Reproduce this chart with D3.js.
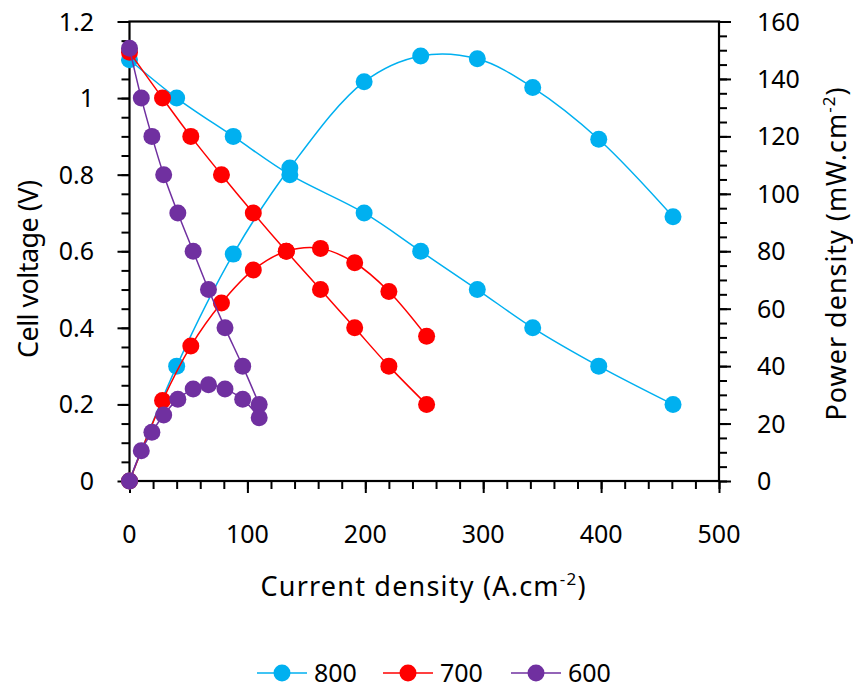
<!DOCTYPE html>
<meta charset="utf-8">
<style>
body{margin:0;background:#fff;}
text{font-family:"Noto Sans",sans-serif;fill:#000;}
</style>
<body>
<script src="https://d3js.org/d3.v7.min.js"></script>
<script>
// values
var series = ["800", "700", "600"];
var colors = ["#00B0F0", "#FF0000", "#7030A0"];

var current800 = [0, 40, 88, 136, 199, 247, 295, 342, 398, 461];
var voltage800 = [1.10, 1.0, 0.9, 0.8, 0.7, 0.6, 0.5, 0.4, 0.3, 0.2];
var power800 = [0, 40, 79, 109, 139, 148, 147, 137, 119, 92];

var current700 = [0, 28, 52, 78, 105, 133, 162, 191, 220, 252];
var voltage700 = [1.12, 1.0, 0.9, 0.8, 0.7, 0.6, 0.5, 0.4, 0.3, 0.2];
var power700 = [0, 28, 47, 62, 73.5, 80, 81, 76, 66, 50.4];

var current600 = [0, 10, 19, 29, 41, 54, 67, 81, 96, 110];
var voltage600 = [1.13, 1.0, 0.9, 0.8, 0.7, 0.6, 0.5, 0.4, 0.3, 0.2];
var power600 = [0, 10.5, 17, 23, 28.5, 32, 33.5, 32, 28.5, 22];

var xTicks = [0, 100, 200, 300, 400, 500];
var vTicks = [0, 0.2, 0.4, 0.6, 0.8, 1, 1.2];
var pTicks = [0, 20, 40, 60, 80, 100, 120, 140, 160];

var w = 853, h = 690;
var pl = 129.5, pr = 719, pt = 21.5, pb = 481;

var svg = d3.select("body").append("svg")
  .attr("width", w)
  .attr("height", h);

var x = d3.scaleLinear().domain([0, 500]).range([pl, pr]);
var yV = d3.scaleLinear().domain([0, 1.2]).range([pb, pt]);
var yP = d3.scaleLinear().domain([0, 160]).range([pb, pt]);

var data = [
  {name: series[0], color: colors[0], cur: current800, v: voltage800, p: power800},
  {name: series[1], color: colors[1], cur: current700, v: voltage700, p: power700},
  {name: series[2], color: colors[2], cur: current600, v: voltage600, p: power600}
];

// axes: minor ticks then major ticks
var axB = svg.append("g").attr("transform", "translate(0," + pb + ")");
axB.call(d3.axisBottom(x).ticks(25).tickSize(8).tickFormat(""));
axB.append("g").call(d3.axisBottom(x).tickValues(xTicks).tickSize(12).tickFormat(""));

var axL = svg.append("g").attr("transform", "translate(" + pl + ",0)");
axL.call(d3.axisLeft(yV).ticks(30).tickSize(8).tickFormat(""));
axL.append("g").call(d3.axisLeft(yV).tickValues(vTicks).tickSize(12).tickFormat(""));

var axR = svg.append("g").attr("transform", "translate(" + pr + ",0)");
axR.call(d3.axisRight(yP).ticks(40).tickSize(8).tickFormat(""));
axR.append("g").call(d3.axisRight(yP).tickValues(pTicks).tickSize(12).tickFormat(""));

svg.selectAll(".domain").remove();
svg.selectAll(".tick line").attr("stroke", "#000").attr("stroke-width", 2);

// frame
svg.append("rect")
  .attr("x", pl).attr("y", pt)
  .attr("width", pr - pl).attr("height", pb - pt)
  .attr("fill", "none").attr("stroke", "#000").attr("stroke-width", 2.2);

// tick labels
svg.selectAll(".xl").data(xTicks).enter().append("text")
  .attr("x", d => x(d)).attr("y", 543)
  .attr("text-anchor", "middle").style("font-size", "25px")
  .text(d => d);

svg.selectAll(".vl").data(vTicks).enter().append("text")
  .attr("x", 94).attr("y", d => yV(d) + 9)
  .attr("text-anchor", "end").style("font-size", "25px")
  .text(d => d);

svg.selectAll(".pl").data(pTicks).enter().append("text")
  .attr("x", 757).attr("y", d => yP(d) + 9)
  .attr("text-anchor", "start").style("font-size", "25px")
  .text(d => d);

// axis titles
var xt = svg.append("text").attr("x", 423).attr("y", 596)
  .attr("text-anchor", "middle").style("font-size", "27px")
  .attr("textLength", 325).attr("lengthAdjust", "spacing");
xt.append("tspan").text("Current density (A.cm");
xt.append("tspan").attr("dy", -11).style("font-size", "17px").text("-2");
xt.append("tspan").attr("dy", 11).text(")");

svg.append("text")
  .attr("transform", "translate(38,269) rotate(-90)")
  .attr("text-anchor", "middle").style("font-size", "27px")
  .attr("textLength", 178).attr("lengthAdjust", "spacing")
  .text("Cell voltage (V)");

var ptt = svg.append("text")
  .attr("transform", "translate(846,254) rotate(-90)")
  .attr("text-anchor", "middle").style("font-size", "27px")
  .attr("textLength", 333).attr("lengthAdjust", "spacing");
ptt.append("tspan").text("Power density (mW.cm");
ptt.append("tspan").attr("dy", -11).style("font-size", "17px").text("-2");
ptt.append("tspan").attr("dy", 11).text(")");

// curves
var lineV = d3.line()
  .x(d => x(d[0])).y(d => yV(d[1]))
  .curve(d3.curveCatmullRom.alpha(0.5));
var lineP = d3.line()
  .x(d => x(d[0])).y(d => yP(d[1]))
  .curve(d3.curveCatmullRom.alpha(0.5));

data.forEach(function(s) {
  var vPts = s.cur.map((c, i) => [c, s.v[i]]);
  var pPts = s.cur.map((c, i) => [c, s.p[i]]);
  var g = svg.append("g");
  g.append("path").attr("d", lineV(vPts))
    .attr("fill", "none").attr("stroke", s.color).attr("stroke-width", 1.5);
  g.append("path").attr("d", lineP(pPts))
    .attr("fill", "none").attr("stroke", s.color).attr("stroke-width", 1.5);
  g.selectAll(".v").data(vPts).enter().append("circle")
    .attr("cx", d => x(d[0])).attr("cy", d => yV(d[1])).attr("r", 8.5)
    .attr("fill", s.color);
  g.selectAll(".p").data(pPts).enter().append("circle")
    .attr("cx", d => x(d[0])).attr("cy", d => yP(d[1])).attr("r", 8.5)
    .attr("fill", s.color);
});

// legend
var legX = [257, 383, 511];
var leg = svg.selectAll(".leg").data(data).enter().append("g")
  .attr("transform", (d, i) => "translate(" + legX[i] + ",673)");
leg.append("line").attr("x1", 0).attr("x2", 50)
  .attr("stroke", d => d.color).attr("stroke-width", 1.5);
leg.append("circle").attr("cx", 25).attr("r", 8.5).attr("fill", d => d.color);
leg.append("text").attr("x", 57).attr("y", 9).style("font-size", "25px")
  .text(d => d.name);
</script>
</body>
